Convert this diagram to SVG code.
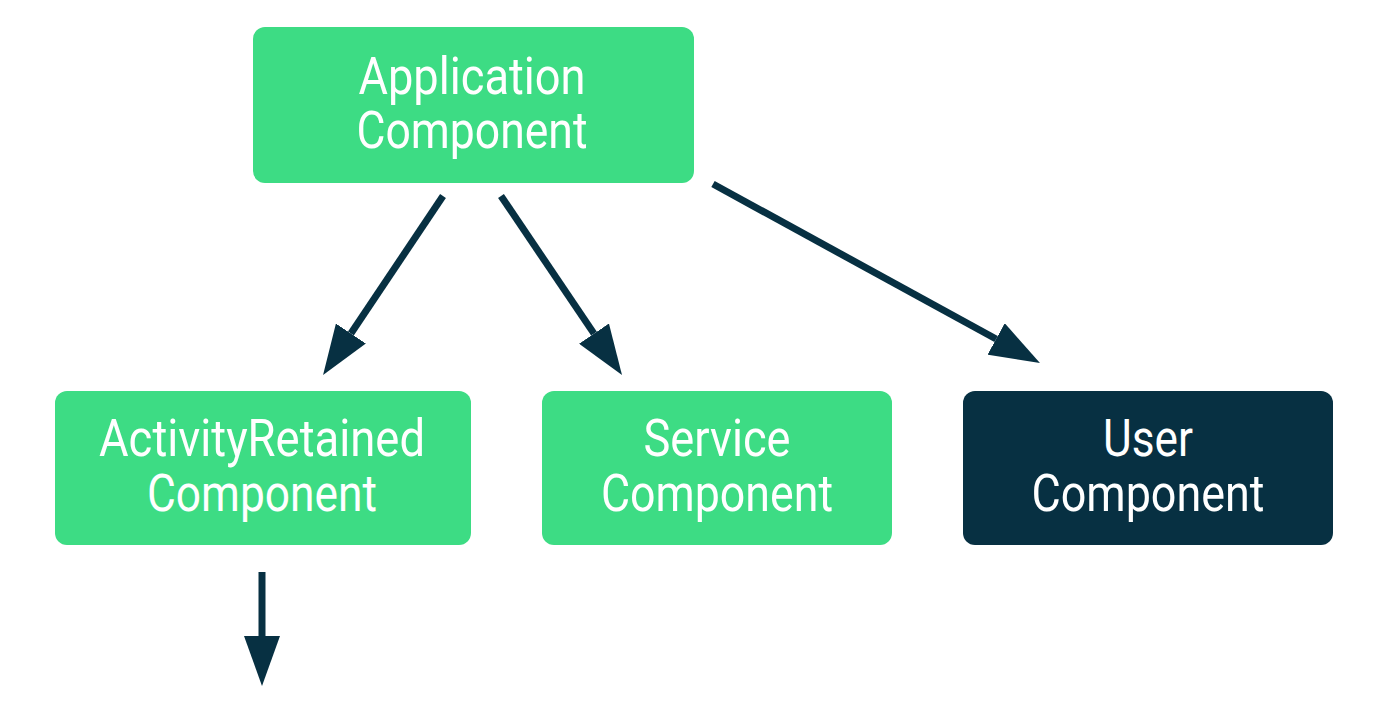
<svg xmlns="http://www.w3.org/2000/svg" width="1400" height="701" viewBox="0 0 1400 701">
  <style>
    .green { fill: #3DDC84; }
    .dark { fill: #073042; }
    .label { font-family: Roboto, "Liberation Sans", sans-serif; font-size: 52px; fill: #FFFFFF; text-anchor: middle; }
    .conn { stroke: #073042; stroke-width: 7; fill: none; marker-end: url(#head); }
  </style>
  <defs>
    <marker id="head" markerUnits="userSpaceOnUse" markerWidth="50" markerHeight="36" refX="0" refY="18" orient="auto" viewBox="0 0 50 36">
      <path d="M0,0 L50,18 L0,36 z" fill="#073042"/>
    </marker>
  </defs>
  <rect width="1400" height="701" fill="#FFFFFF"/>

  <g id="application">
    <rect class="green" x="253" y="27" width="441" height="156" rx="12"/>
    <text class="label" x="472" y="94" textLength="227" lengthAdjust="spacingAndGlyphs">Application</text>
    <text class="label" x="472" y="148" textLength="231" lengthAdjust="spacingAndGlyphs">Component</text>
  </g>

  <g id="activityretained">
    <rect class="green" x="55" y="391" width="416" height="154" rx="12"/>
    <text class="label" x="262" y="456" textLength="326" lengthAdjust="spacingAndGlyphs">ActivityRetained</text>
    <text class="label" x="262" y="511" textLength="230" lengthAdjust="spacingAndGlyphs">Component</text>
  </g>

  <g id="service">
    <rect class="green" x="542" y="391" width="350" height="154" rx="12"/>
    <text class="label" x="717" y="456" textLength="147" lengthAdjust="spacingAndGlyphs">Service</text>
    <text class="label" x="717" y="511" textLength="232" lengthAdjust="spacingAndGlyphs">Component</text>
  </g>

  <g id="user">
    <rect class="dark" x="963" y="391" width="370" height="154" rx="12"/>
    <text class="label" x="1148" y="456" textLength="90" lengthAdjust="spacingAndGlyphs">User</text>
    <text class="label" x="1148" y="511" textLength="233" lengthAdjust="spacingAndGlyphs">Component</text>
  </g>

  <g id="connectors">
    <line class="conn" x1="443" y1="196" x2="350.9" y2="333.5"/>
    <line class="conn" x1="501" y1="196" x2="594" y2="333.6"/>
    <line class="conn" x1="713" y1="184" x2="996.1" y2="339"/>
    <line class="conn" x1="262" y1="572" x2="262" y2="636"/>
  </g>
</svg>
